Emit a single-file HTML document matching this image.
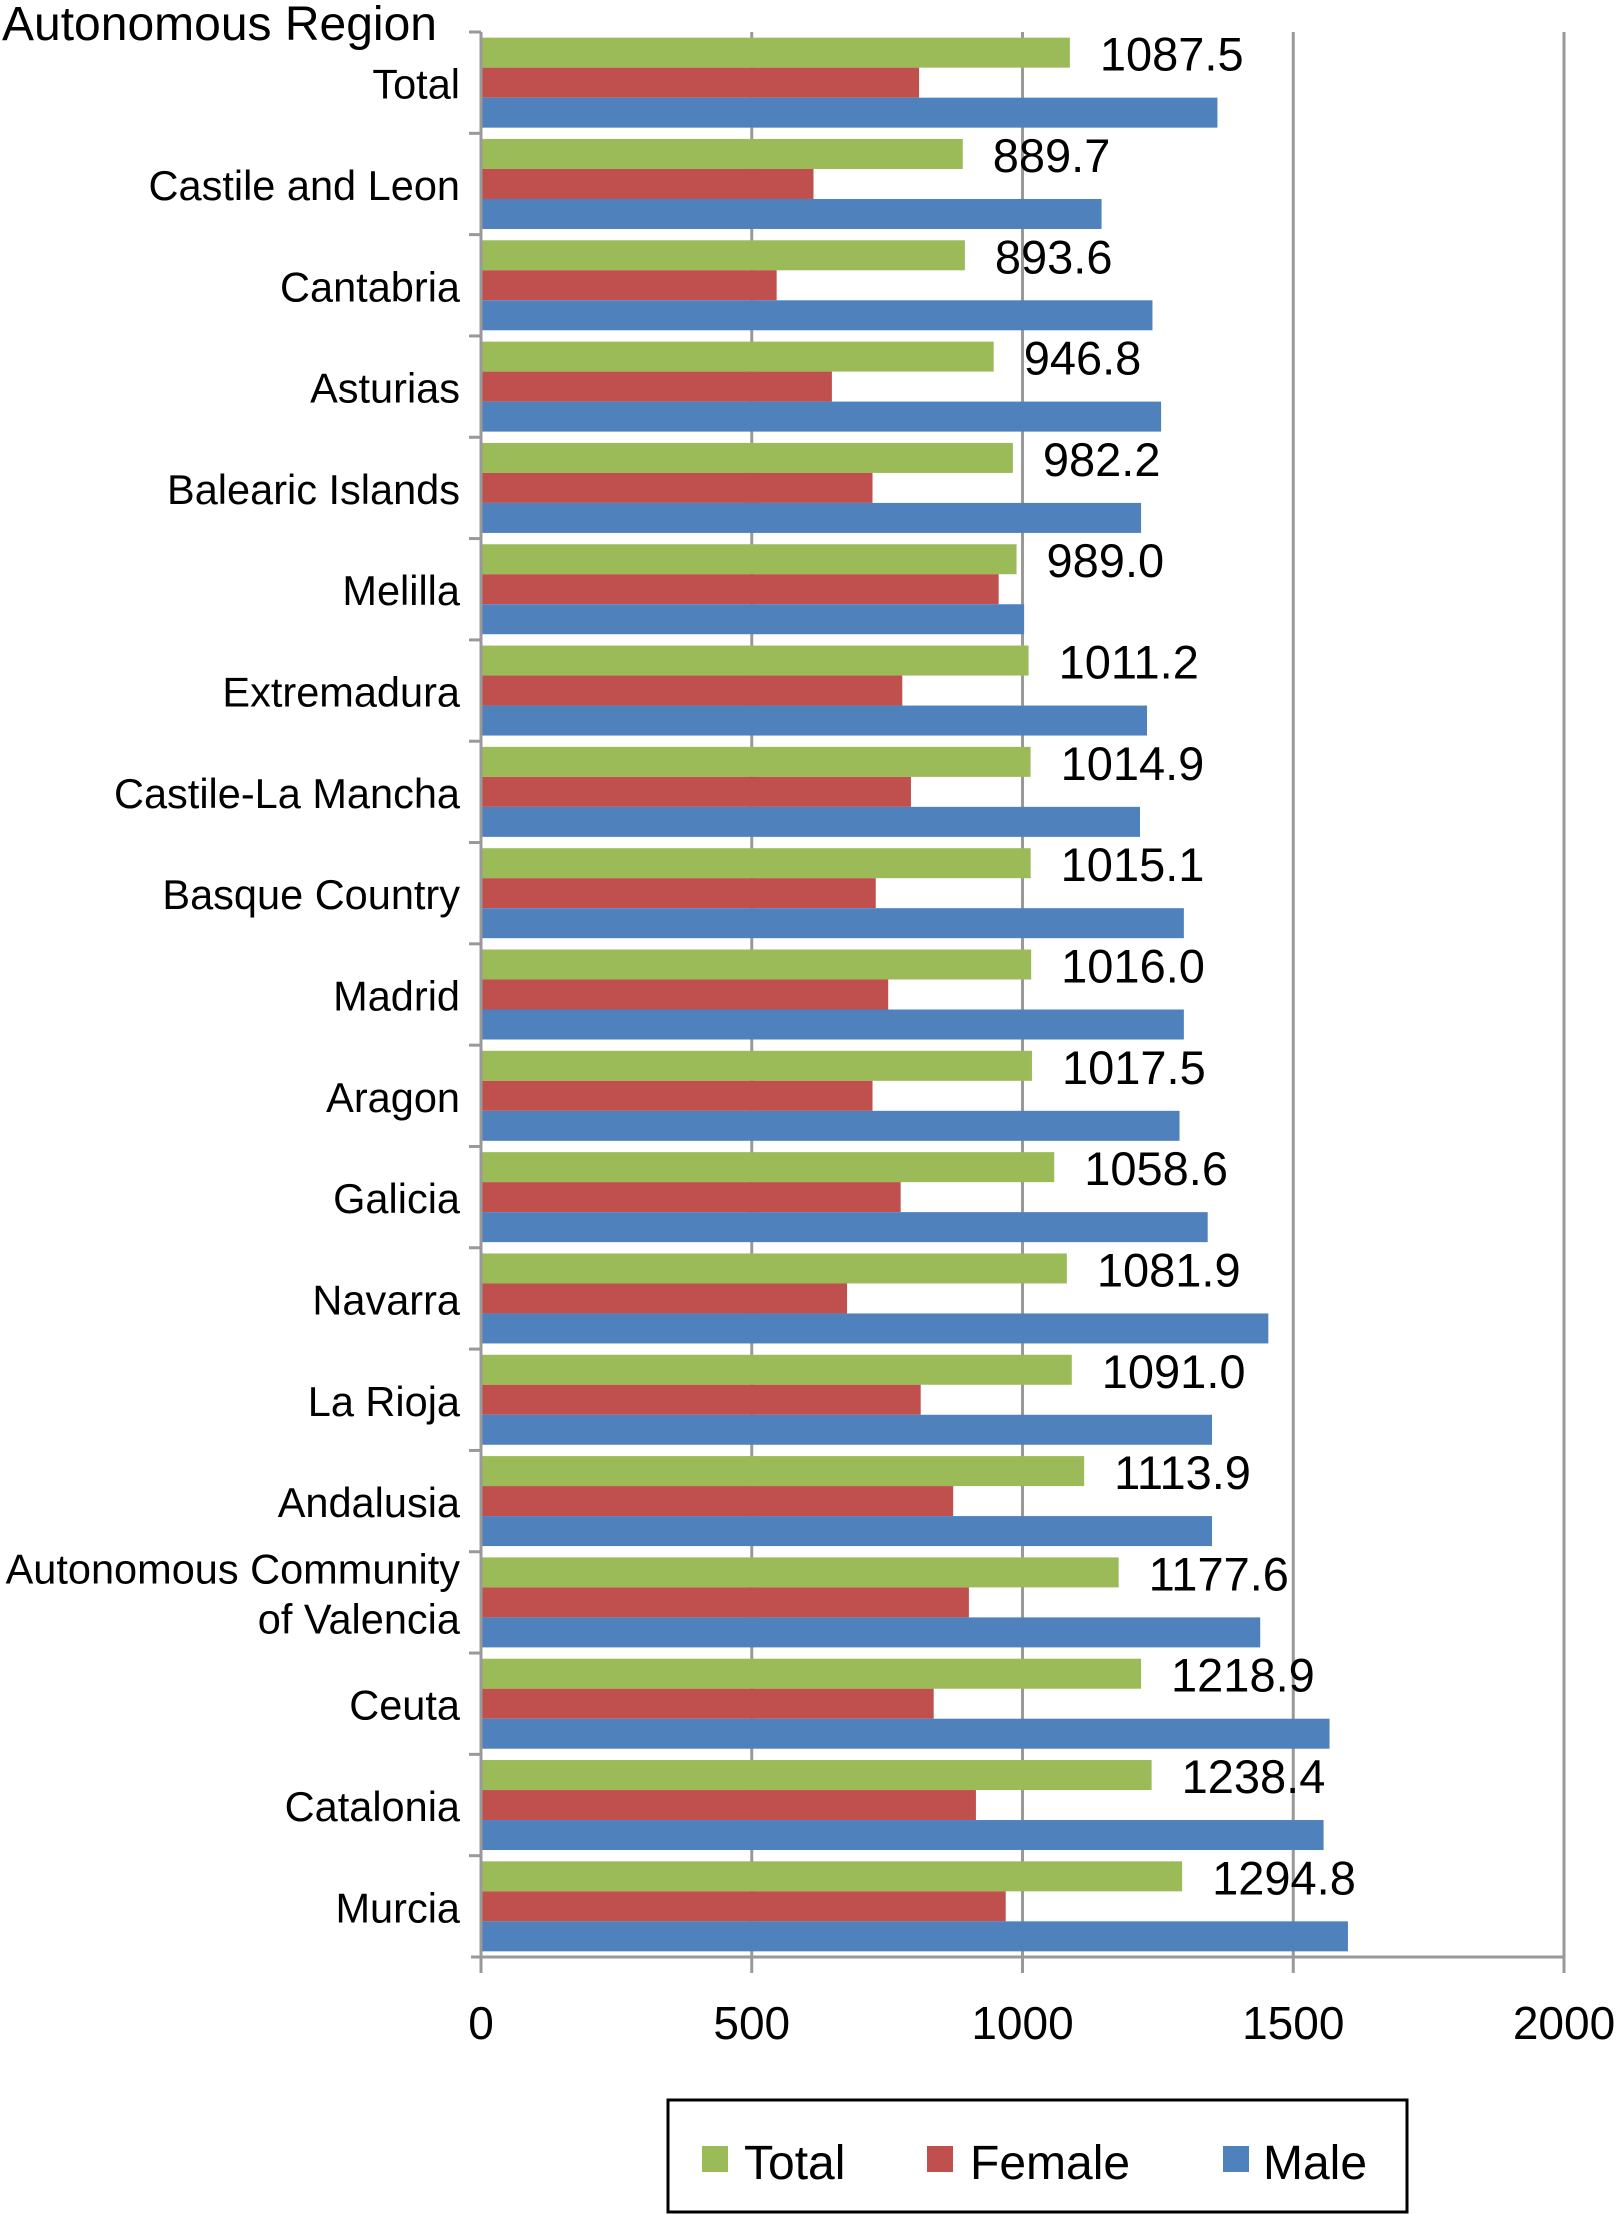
<!DOCTYPE html>
<html><head><meta charset="utf-8"><style>
html,body{margin:0;padding:0;background:#fff;}
svg{display:block;font-family:"Liberation Sans",sans-serif;}
</style></head><body>
<svg id="chart" width="1616" height="2214" viewBox="0 0 1616 2214" xmlns="http://www.w3.org/2000/svg">
<text x="2" y="40" font-size="48" fill="#000">Autonomous Region</text>
<g id="grid"></g><g id="bars"></g><g id="labels"></g><g id="axes"></g>
<g>
<rect x="668" y="2100" width="739" height="112" fill="#fff" stroke="#000" stroke-width="3"/>
<rect x="702" y="2146" width="26" height="26" fill="#9BBB59"/>
<text x="744" y="2179" font-size="48">Total</text>
<rect x="927" y="2146" width="26" height="26" fill="#C0504D"/>
<text x="970" y="2179" font-size="48">Female</text>
<rect x="1223" y="2146" width="26" height="26" fill="#4F81BD"/>
<text x="1263" y="2179" font-size="48">Male</text>
</g>
</svg>
<script>
const categories=["Total","Castile and Leon","Cantabria","Asturias","Balearic Islands","Melilla","Extremadura","Castile-La Mancha","Basque Country","Madrid","Aragon","Galicia","Navarra","La Rioja","Andalusia","Autonomous Community|of Valencia","Ceuta","Catalonia","Murcia"];
const totalValues=[1087.5,889.7,893.6,946.8,982.2,989.0,1011.2,1014.9,1015.1,1016.0,1017.5,1058.6,1081.9,1091.0,1113.9,1177.6,1218.9,1238.4,1294.8];
const femaleValues=[809,614,546,648,723,956,778,794,729,752,723,775,676,812,872,901,836,914,969];
const maleValues=[1360,1146,1240,1256,1219,1003,1230,1217,1298,1298,1290,1342,1454,1350,1350,1439,1567,1556,1601];
const xTicks=[0,500,1000,1500,2000];

const NS="http://www.w3.org/2000/svg";
const x0=481,x1=1564,xMax=2000,yTop=32,yBot=1957;
const xs=v=>x0+(v/xMax)*(x1-x0);
const band=(yBot-yTop)/categories.length;
const barH=30;
function mk(tag,attrs,parent){const e=document.createElementNS(NS,tag);for(const k in attrs)e.setAttribute(k,attrs[k]);document.getElementById(parent).appendChild(e);return e;}

xTicks.forEach((t,i)=>{
  if(t>0){const g=mk('line',{x1:xs(t),x2:xs(t),y1:yTop,y2:yBot,stroke:'#999','stroke-width':3},'grid');
  
  }
  const tk=mk('line',{x1:xs(t),x2:xs(t),y1:yBot,y2:yBot+16,stroke:'#999','stroke-width':3},'axes');
  
  
  const tl=mk('text',{x:xs(t),y:2039,'font-size':46,'text-anchor':'middle'},'axes');
  tl.textContent=t;
  
  
});
const ax=mk('line',{x1:x0,x2:x0,y1:yTop,y2:yBot,stroke:'#999','stroke-width':3},'axes');


const bx=mk('line',{x1:x0-10,x2:x1,y1:yBot,y2:yBot,stroke:'#999','stroke-width':3},'axes');



categories.forEach((c,i)=>{
  const y=yTop+i*band;
  const tk=mk('line',{x1:x0-12,x2:x0,y1:y,y2:y,stroke:'#999','stroke-width':3},'axes');
  
  
  const g0=y+(band-3*barH)/2;
  const series=[[totalValues[i],'#9BBB59','bar-total'],[femaleValues[i],'#C0504D','bar-female'],[maleValues[i],'#4F81BD','bar-male']];
  series.forEach((s,j)=>{
    const r=mk('rect',{x:x0,y:g0+j*barH,width:xs(s[0])-x0,height:barH,fill:s[1]},'bars');
    
    
  });
  const vl=mk('text',{x:xs(totalValues[i])+30,y:g0+33,'font-size':47},'labels');
  vl.textContent=totalValues[i].toFixed(1);
  
  
  const parts=c.split('|');
  const cy=g0+1.5*barH;
  parts.forEach((p,k)=>{
    const ly=parts.length===1?cy+16:cy-19+k*50;
    const cl=mk('text',{x:460,y:ly,'font-size':41.5,'text-anchor':'end'},'labels');
    cl.textContent=p;
    
    
  });
});
</script>
</body></html>
